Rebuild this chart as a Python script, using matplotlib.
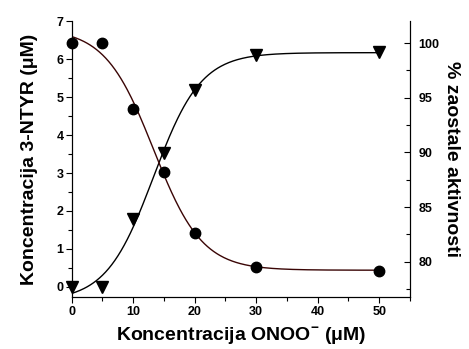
import numpy as np
import matplotlib
matplotlib.use("Agg")
import matplotlib.pyplot as plt
from matplotlib.ticker import MultipleLocator

plt.rcParams['font.family'] = ['Liberation Sans', 'DejaVu Sans']
plt.rcParams['font.weight'] = 'bold'
plt.rcParams['mathtext.fontset'] = 'custom'
plt.rcParams['mathtext.rm'] = 'Liberation Sans:bold'
plt.rcParams['mathtext.bf'] = 'Liberation Sans:bold'

# data
conc = [0, 5, 10, 15, 20, 30, 50]                      # ONOO- (uM)
ntyr = [0.0, 0.0, 1.78, 3.52, 5.2, 6.1, 6.18]          # 3-NTYR (uM), left axis
activity = [100.0, 100.0, 93.96, 88.24, 82.6, 79.54, 79.18]  # % remaining activity, right axis


def boltzmann(x, a1, a2, x0, dx):
    return a2 + (a1 - a2) / (1 + np.exp((x - x0) / dx))


def fit_boltzmann(x, y):
    # grid search on x0, dx; A1, A2 by linear least squares
    x = np.asarray(x, float)
    y = np.asarray(y, float)
    best = None
    for x0 in np.linspace(5, 25, 201):
        for dx in np.linspace(1, 10, 181):
            g = 1 / (1 + np.exp((x - x0) / dx))
            M = np.column_stack([g, 1 - g])
            coef, *_ = np.linalg.lstsq(M, y, rcond=None)
            err = np.sum((M @ coef - y) ** 2)
            if best is None or err < best[0]:
                best = (err, coef[0], coef[1], x0, dx)
    return best[1:]


xs = np.linspace(0, 50, 300)
p_ntyr = fit_boltzmann(conc, ntyr)
p_act = fit_boltzmann(conc, activity)

fig = plt.figure(figsize=(4.69, 3.49), dpi=100)
ax = fig.add_axes([0.1529, 0.1476, 0.7213, 0.7914])
ax2 = ax.twinx()

ax.plot(xs, boltzmann(xs, *p_ntyr), color='black', lw=1.0)
ax.plot(conc, ntyr, linestyle='none', marker='v', color='black', ms=8, clip_on=False, zorder=5)
ax2.plot(xs, boltzmann(xs, *p_act), color='#3a0505', lw=1.0)
ax2.plot(conc, activity, linestyle='none', marker='o', color='black', ms=7.5, clip_on=False, zorder=5)

ax.set_xlim(0, 55)
ax.set_ylim(-0.28, 7)
ax2.set_ylim(76.72, 102.0)

ax.xaxis.set_major_locator(MultipleLocator(10))
ax.xaxis.set_minor_locator(MultipleLocator(5))
ax.yaxis.set_major_locator(MultipleLocator(1))
ax.yaxis.set_minor_locator(MultipleLocator(0.5))
ax2.yaxis.set_major_locator(MultipleLocator(5))
ax2.yaxis.set_minor_locator(MultipleLocator(2.5))

ax.spines['top'].set_visible(False)
ax2.spines['top'].set_visible(False)
ax.tick_params(axis='both', which='major', direction='out', length=4, width=0.8, labelsize=9, pad=2)
ax.tick_params(axis='both', which='minor', direction='out', length=3, width=0.8)
ax2.tick_params(axis='y', which='major', direction='in', length=4, width=0.8, labelsize=9, pad=6)
ax2.tick_params(axis='y', which='minor', direction='in', length=3, width=0.8)

for lab in ax.get_xticklabels() + ax.get_yticklabels() + ax2.get_yticklabels():
    lab.set_fontweight('bold')

ax.set_xlabel(r'Koncentracija ONOO$^{-}$ (μM)', fontsize=14, fontweight='bold', labelpad=6)
ax.set_ylabel('Koncentracija 3-NTYR (μM)', fontsize=14, fontweight='bold', labelpad=13)
ax2.set_ylabel('% zaostale aktivnosti', fontsize=14, fontweight='bold', rotation=270, labelpad=15)

fig.savefig('out.png', dpi=100)
